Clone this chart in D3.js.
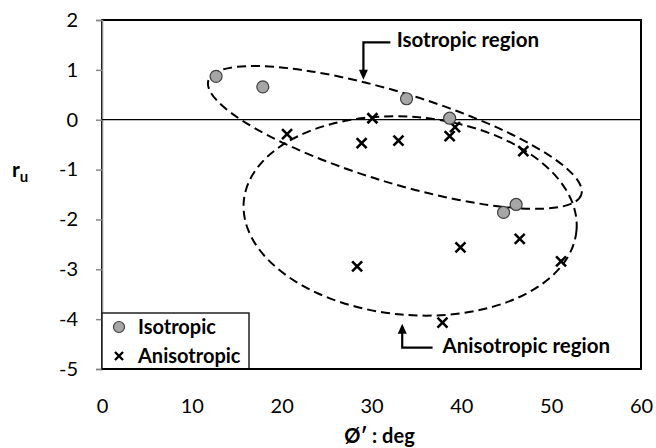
<!DOCTYPE html>
<html><head><meta charset="utf-8">
<script src="https://cdn.jsdelivr.net/npm/d3@7"></script>
<style>
html,body{margin:0;padding:0;background:#fff;}
svg{display:block;font-family:Lato,"Open Sans",sans-serif;}
</style></head>
<body>
<svg id="chart" width="656" height="448"></svg>
<script>
// ---- data ----
const xTicks = [0, 10, 20, 30, 40, 50, 60];
const yTicks = [-5, -4, -3, -2, -1, 0, 1, 2];
const isoX = [12.7, 17.9, 33.9, 38.7, 44.7, 46.1];
const isoY = [0.87, 0.66, 0.42, 0.03, -1.86, -1.70];
const aniX = [20.6, 30.1, 28.9, 33.0, 39.3, 38.7, 46.9, 28.4, 39.9, 46.5, 51.1, 37.9];
const aniY = [-0.29, 0.03, -0.47, -0.42, -0.15, -0.33, -0.63, -2.94, -2.56, -2.39, -2.84, -4.07];
const seriesNames = ["Isotropic", "Anisotropic"];
const regionNames = ["Isotropic region", "Anisotropic region"];
// region outlines: centre in data units
const regionCx = [32.6, 34.3];
const regionCy = [-0.355, -1.93];

const svg = d3.select("#chart");
const L = 102, R = 641, T = 20, B = 369;
const x = d3.scaleLinear().domain([0, 60]).range([L, R]);
const y = d3.scaleLinear().domain([-5, 2]).range([B, T]);
const fmt = d => String(d);

// plot frame
svg.append("rect").attr("x", L).attr("y", T).attr("width", R - L).attr("height", B - T)
  .attr("fill", "none").attr("stroke", "#000").attr("stroke-width", 2);

// y axis
const yAxis = d3.axisLeft(y).tickValues(yTicks).tickSize(6).tickPadding(18).tickFormat(fmt);
const gy = svg.append("g").attr("transform", `translate(${L},0)`).call(yAxis);
gy.select(".domain").attr("stroke", "#888").attr("stroke-width", 1.5);
gy.selectAll(".tick line").attr("stroke", "#888").attr("stroke-width", 1.5);
gy.selectAll(".tick text").attr("font-size", 20).attr("fill", "#000").attr("font-family", "Lato");

// x axis labels (axis line at y=0, labels at bottom)
const xAxis = d3.axisBottom(x).tickValues(xTicks).tickSize(0).tickPadding(30).tickFormat(fmt);
const gx = svg.append("g").attr("transform", `translate(0,${B})`).call(xAxis);
gx.select(".domain").remove();
gx.selectAll(".tick text").attr("font-size", 20).attr("fill", "#000").attr("font-family", "Lato");

// zero line
svg.append("line").attr("x1", L).attr("x2", R).attr("y1", y(0)).attr("y2", y(0))
  .attr("stroke", "#000").attr("stroke-width", 1.2);

// region ellipses
const ellParams = [
  {rx: 195, ry: 45, rot: 17},
  {rx: 167, ry: 99, rot: 5}
];
ellParams.forEach((p, i) => {
  svg.append("ellipse")
    .attr("cx", 0).attr("cy", 0).attr("rx", p.rx).attr("ry", p.ry)
    .attr("transform", `translate(${x(regionCx[i])},${y(regionCy[i])}) rotate(${p.rot})`)
    .attr("fill", "none").attr("stroke", "#000").attr("stroke-width", 2)
    .attr("stroke-dasharray", "9,5");
});

// markers
const isoData = isoX.map((v, i) => ({x: v, y: isoY[i]}));
const aniData = aniX.map((v, i) => ({x: v, y: aniY[i]}));
function xPath(s) { return `M${-s},${-s}L${s},${s}M${-s},${s}L${s},${-s}`; }

svg.append("g").selectAll("path").data(aniData).join("path")
  .attr("d", xPath(5))
  .attr("transform", d => `translate(${x(d.x)},${y(d.y)})`)
  .attr("stroke", "#000").attr("stroke-width", 2.6).attr("fill", "none");

svg.append("g").selectAll("circle").data(isoData).join("circle")
  .attr("cx", d => x(d.x)).attr("cy", d => y(d.y)).attr("r", 6)
  .attr("fill", "#a6a6a6").attr("stroke", "#404040").attr("stroke-width", 1.2);

// annotations with arrows
function arrow(tipX, tipY, cornerY, endX, dir) {
  const tx = x(tipX), ty = y(tipY), cy = y(cornerY), ex = x(endX);
  svg.append("path").attr("d", `M${ex},${cy}L${tx},${cy}L${tx},${ty - dir * 8}`)
    .attr("fill", "none").attr("stroke", "#000").attr("stroke-width", 2.2);
  svg.append("path").attr("d", `M${tx},${ty}L${tx - 4.5},${ty - dir * 10}L${tx + 4.5},${ty - dir * 10}Z`)
    .attr("fill", "#000");
}
arrow(29.1, 0.80, 1.55, 32.1, 1);
svg.append("text").attr("x", x(32.8)).attr("y", y(1.46)).text(regionNames[0])
  .attr("font-size", 20.5).attr("font-weight", "bold").attr("font-family", "Lato");
arrow(33.42, -4.09, -4.57, 36.8, -1);
svg.append("text").attr("x", x(37.9)).attr("y", y(-4.68)).text(regionNames[1])
  .attr("font-size", 20.5).attr("font-weight", "bold").attr("font-family", "Lato");

// legend
const lg = svg.append("g");
lg.append("rect").attr("x", L).attr("y", 313).attr("width", 147).attr("height", B - 313)
  .attr("fill", "#fff").attr("stroke", "#222").attr("stroke-width", 1.5);
lg.append("circle").attr("cx", 119).attr("cy", 327).attr("r", 5.5)
  .attr("fill", "#a6a6a6").attr("stroke", "#404040").attr("stroke-width", 1.2);
lg.append("path").attr("d", xPath(4)).attr("transform", "translate(119,356)")
  .attr("stroke", "#000").attr("stroke-width", 2.4);
lg.append("text").attr("x", 138).attr("y", 334).text(seriesNames[0])
  .attr("font-size", 20).attr("font-weight", "bold");
lg.append("text").attr("x", 138).attr("y", 363).text(seriesNames[1])
  .attr("font-size", 20).attr("font-weight", "bold");
// redraw frame bottom over legend
svg.append("line").attr("x1", L).attr("x2", R).attr("y1", B).attr("y2", B).attr("stroke", "#000").attr("stroke-width", 2);

// axis titles
const yt = svg.append("text").attr("x", 12).attr("y", 177).attr("font-weight", "bold").attr("font-size", 21);
yt.append("tspan").text("r");
yt.append("tspan").text("u").attr("font-size", 15).attr("dy", 5);
svg.append("text").attr("x", (L + R) / 2 + 8).attr("y", 443).attr("text-anchor", "middle")
  .attr("font-weight", "bold").attr("font-size", 20).text("Ø′ : deg");
</script>
</body></html>
